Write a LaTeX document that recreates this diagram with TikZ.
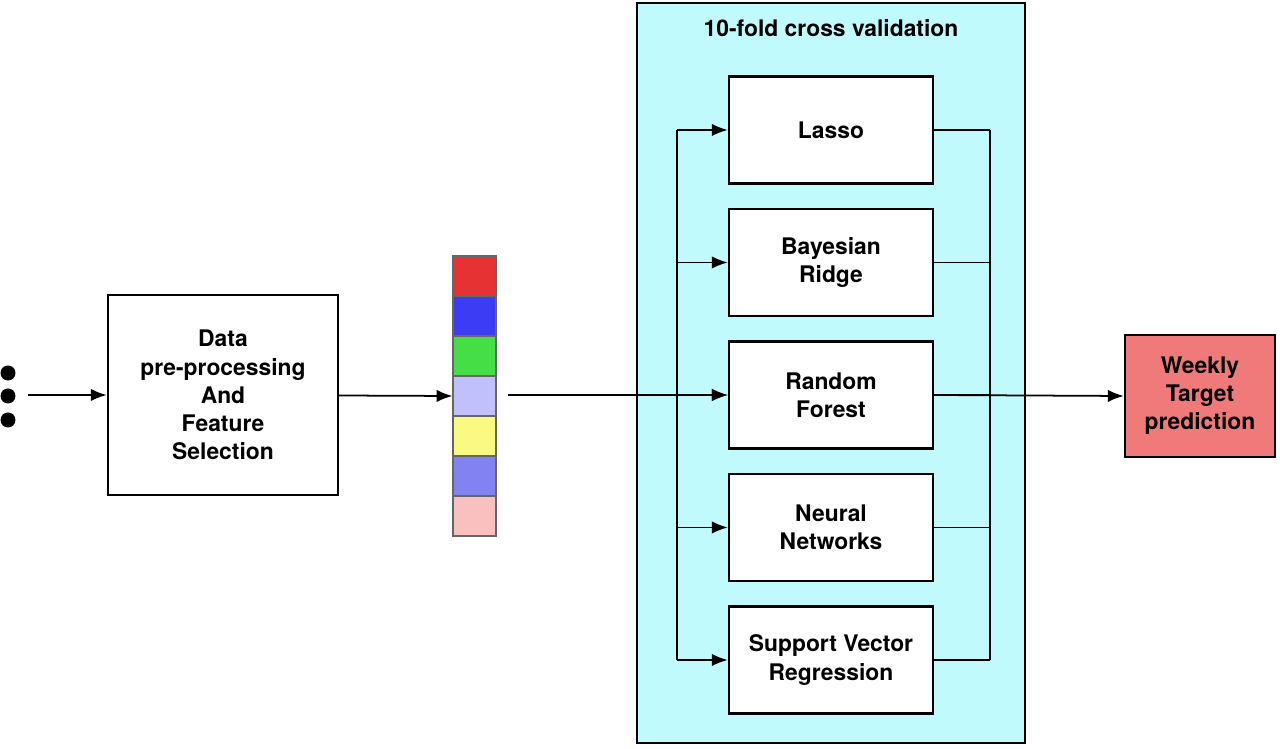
\documentclass[tikz,border=0pt]{standalone}
\usepackage{fontspec}
\setmainfont{TeX Gyre Heros}
\usetikzlibrary{arrows.meta,positioning}
\definecolor{cvcyan}{RGB}{192,250,252}
\definecolor{outred}{RGB}{240,122,122}
\tikzset{
  box/.style={draw=black,line width=1.4pt,fill=white,align=center,font=\bfseries\fontsize{13}{16}\selectfont},
  cell/.style={draw=black!60,line width=0.6pt,minimum width=0.86cm,minimum height=0.8cm,inner sep=0pt},
  arr/.style={line width=1pt,-{Latex[length=9pt,width=7pt]}},
  wire/.style={line width=1pt}
}
\begin{document}
\begin{tikzpicture}[scale=1.0, every node/.style={scale=1}]
        \useasboundingbox (0,0) rectangle (25.6,14.98);
        % Draw cross validation frame
        \filldraw[fill=cvcyan,draw=black,line width=1.4pt] (12.74,0.12) rectangle (20.5,14.92);
        \node[font=\bfseries\fontsize{13}{16}\selectfont] (cvtitle) at (16.62,14.42) {10-fold cross validation};
        % Draw input dots
        \foreach \y/\n in {7.52/1, 7.06/2, 6.58/3}
        \fill (0.16,\y) circle (0.15) coordinate (dot\n);
        \coordinate (in) at (0.56,7.08);
        % Data box
        \node[box,minimum width=4.6cm,minimum height=4cm] (prep) at (4.46,7.08)
          {Data\\pre-processing\\And\\Feature\\Selection};
        % Feature vector
        \foreach \c [count=\i] in {{230,50,50},{60,60,245},{70,222,70},{192,192,252},{250,250,130},{130,130,242},{250,192,192}}
        {
          \definecolor{cc}{RGB}{\c}
          \node[cell,fill=cc] (v\i) at (9.49,9.46-0.8*\i+0.8) {};
        }
        \coordinate (vout) at (10.16,7.08);
        % Models
        \foreach \t [count=\i] in {Lasso,{Bayesian\\Ridge},{Random\\Forest},{Neural\\Networks},{Support Vector\\Regression}}
        \node[box,minimum width=4.08cm,minimum height=2.14cm] (m\i) at (16.62,12.38-2.65*\i+2.65) {\t};
        \coordinate (busL) at (13.54,0);
        \coordinate (busR) at (19.8,0);
        % Output
        \node[box,fill=outred,minimum width=3cm,minimum height=2.44cm] (out) at (24.0,7.06)
          {Weekly\\Target\\prediction};
        % Connectors
        \draw[arr] (in) -- (prep);
        \draw[arr] (prep) -- (v4.west);
        \draw[wire] (busL |- m1.west) -- (busL |- m5.west);
        \draw[wire] (busR |- m1.east) -- (busR |- m5.east);
        \foreach \i in {1,...,5}
        {
          \draw[arr] (busL |- m\i.west) -- (m\i.west);
          \draw[wire] (m\i.east) -- (busR |- m\i.east);
        }
        \draw[arr] (vout) -- (m3.west);
        \draw[arr] (m3.east) -- (out.west);
\end{tikzpicture}
\end{document}
